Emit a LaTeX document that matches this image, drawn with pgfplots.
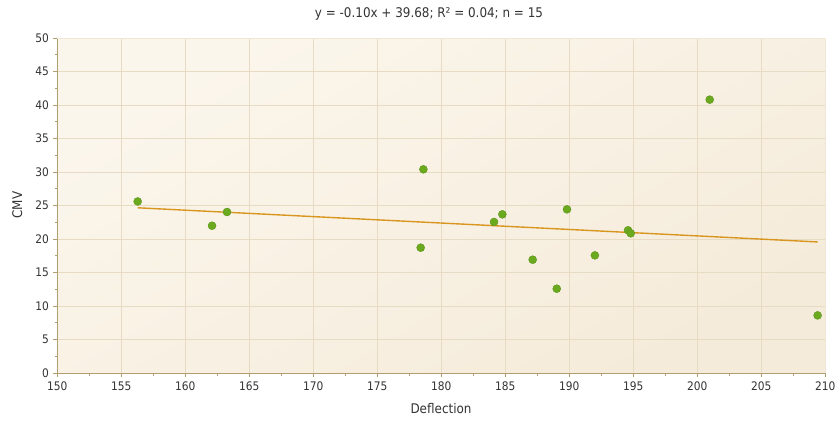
\documentclass[border=0pt]{standalone}
\usepackage{fontspec}
\setmainfont{DejaVu Sans Condensed}
\usepackage{pgfplots}
\pgfplotsset{compat=1.18}
\definecolor{bgA}{HTML}{FBF6EC}
\definecolor{bgB}{HTML}{F5EBDA}
\definecolor{gridc}{HTML}{E7DBC4}
\definecolor{axc}{HTML}{B39E72}
\definecolor{dotc}{HTML}{6BAA1E}
\definecolor{dotd}{HTML}{5A9418}
\definecolor{linec}{HTML}{D9961E}
\definecolor{txt}{HTML}{333333}
\begin{document}
\begin{tikzpicture}
\path[use as bounding box] (-57.3bp,-48bp) rectangle (780.7bp,373bp);
\begin{axis}[
  scale only axis, width=768bp, height=335bp,
  xmin=150, xmax=210, ymin=0, ymax=50,
  xtick distance=5, ytick distance=5,
  minor x tick num=1, minor y tick num=1,
  axis x line*=bottom, axis y line*=left,
  axis line style={axc, line width=0.8pt, -},
  every tick/.style={axc, line width=0.6pt},
  tick align=outside,
  major tick length=4bp, minor tick length=2.5bp,
  grid=major, major grid style={gridc, line width=0.8pt},
  axis background/.style={shading=axis, top color=bgA, bottom color=bgB, shading angle=30},
  /pgf/number format/assume math mode=true,
  tick label style={font=\fontsize{11.8bp}{13bp}\selectfont, text=txt},
  xticklabel style={yshift=-1bp},
  yticklabel style={xshift=-1bp},
  clip=false,
]
\draw[gridc!60!bgA, line width=0.8pt] (rel axis cs:0,1) -- (rel axis cs:1,1) -- (rel axis cs:1,0);
\addplot[linec, line width=1.4pt] coordinates {(156.27,24.66) (209.4,19.56)};
\addplot[only marks, mark=*, mark size=4bp, mark options={fill=dotc, draw=dotd, line width=0.4pt}] coordinates {
(156.28,25.6) (162.09,21.98) (163.26,24.03) (178.6,30.4) (178.39,18.7)
(184.12,22.54) (184.77,23.68) (187.14,16.91) (189.02,12.58) (189.82,24.43)
(192.0,17.56) (194.59,21.3) (194.8,20.85) (200.97,40.8) (209.4,8.6)};
\end{axis}
\node[font=\fontsize{13.3bp}{15bp}\selectfont, text=txt] at (371.7bp,359bp) {y = -0.10x + 39.68; R² = 0.04; n = 15};
\node[font=\fontsize{13.3bp}{15bp}\selectfont, text=txt] at (383.7bp,-36bp) {Deflection};
\node[font=\fontsize{13.3bp}{15bp}\selectfont, text=txt, rotate=90] at (-40bp,168bp) {CMV};
\end{tikzpicture}
\end{document}
